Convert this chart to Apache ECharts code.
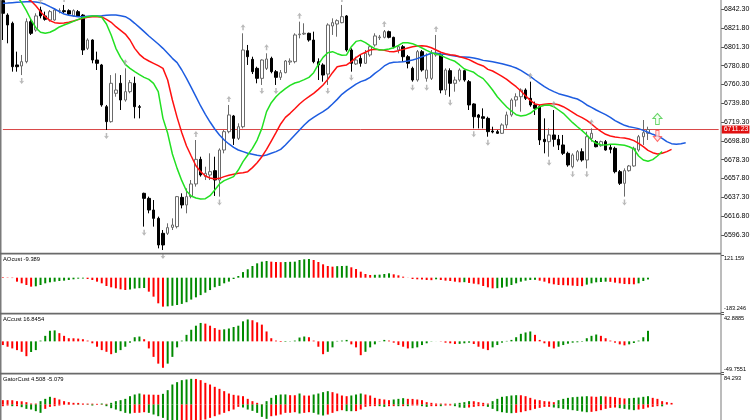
<!DOCTYPE html>
<html><head><meta charset="utf-8">
<script src="https://cdn.jsdelivr.net/npm/echarts@6/dist/echarts.min.js"></script>
<style>html,body{margin:0;padding:0;background:#fff}#c{width:752px;height:420px}</style>
</head><body><div id="c"></div>
<script>
// [open, close, low, high]
const candles = [
[6851.7,6837.9,6808.8,6852.4],[6836.0,6825.2,6805.2,6837.9],[6827.0,6779.7,6774.3,6828.8],[6781.6,6779.7,6774.3,6796.1],[6780.5,6785.2,6770.6,6792.5],
[6785.2,6828.8,6783.4,6832.4],[6828.8,6816.1,6814.3,6832.4],[6819.7,6835.0,6817.9,6837.9],[6841.5,6835.0,6832.4,6845.1],[6835.0,6831.3,6829.9,6839.7],
[6830.6,6839.7,6828.8,6841.5],[6830.6,6841.5,6829.9,6843.3],[6840.4,6840.8,6837.9,6843.3],[6840.8,6839.7,6837.9,6847.0],[6840.8,6837.1,6836.0,6842.2],
[6835.0,6840.8,6834.2,6842.2],[6839.7,6835.0,6834.2,6841.5],[6836.0,6797.9,6792.5,6837.1],[6799.7,6808.8,6797.9,6810.6],[6808.8,6787.0,6783.4,6809.5],
[6787.0,6783.4,6776.1,6796.1],[6781.6,6738.0,6736.1,6782.7],[6736.1,6719.8,6710.7,6738.0],[6719.8,6761.6,6718.7,6770.6],[6750.7,6754.3,6747.0,6772.5],
[6761.6,6743.4,6732.5,6770.6],[6743.4,6752.5,6741.6,6777.9],[6752.5,6762.3,6750.7,6765.2],[6761.6,6736.1,6723.4,6768.8],[6736.1,6735.4,6723.4,6738.0],
[6641.7,6636.2,6605.4,6642.4],[6636.2,6623.5,6619.9,6638.1],[6623.5,6614.4,6605.4,6634.4],[6614.4,6585.4,6581.7,6616.3],[6598.1,6585.4,6579.9,6601.7],
[6598.1,6604.3,6596.3,6609.0],[6604.6,6607.2,6601.7,6614.4],[6605.4,6638.1,6603.5,6638.8],[6637.3,6629.0,6625.3,6641.7],[6629.0,6638.1,6619.9,6647.1],
[6638.1,6651.9,6636.2,6656.2],[6651.9,6678.7,6649.0,6699.8],[6678.7,6661.7,6659.9,6681.6],[6659.9,6663.5,6656.2,6670.7],[6661.7,6665.3,6656.2,6685.3],
[6666.4,6656.2,6638.8,6681.6],[6656.2,6688.9,6638.1,6690.7],[6688.9,6708.9,6685.3,6710.7],[6708.9,6727.1,6707.1,6738.0],[6726.0,6701.6,6694.4,6727.1],
[6701.6,6714.3,6699.8,6718.0],[6714.3,6797.9,6712.5,6816.1],[6797.2,6790.6,6781.6,6803.4],[6787.7,6774.3,6771.7,6790.6],[6777.9,6767.0,6761.6,6779.7],
[6767.0,6787.0,6759.8,6787.7],[6777.9,6788.1,6776.1,6794.3],[6788.8,6774.3,6772.5,6790.6],[6774.3,6768.1,6759.8,6776.1],[6768.1,6773.2,6765.2,6776.1],
[6773.2,6785.9,6772.5,6787.0],[6784.8,6785.9,6781.6,6788.8],[6785.2,6814.3,6783.4,6816.1],[6814.6,6815.3,6810.6,6828.8],[6815.3,6816.1,6814.3,6827.0],
[6816.1,6808.8,6807.0,6816.8],[6808.8,6785.2,6783.4,6817.9],[6785.2,6781.6,6765.2,6788.8],[6781.6,6770.6,6763.4,6783.4],[6771.7,6825.2,6759.8,6827.0],
[6824.1,6827.7,6814.3,6832.4],[6826.2,6829.9,6812.4,6831.3],[6827.7,6834.2,6827.0,6847.0],[6835.0,6797.9,6796.1,6836.0],[6797.9,6783.4,6774.3,6799.7],
[6782.7,6787.0,6781.6,6790.6],[6788.8,6783.4,6779.7,6792.5],[6783.4,6794.3,6782.7,6797.9],[6792.5,6801.5,6790.6,6803.4],[6803.4,6813.2,6801.5,6816.1],
[6811.3,6812.1,6808.8,6814.3],[6811.7,6817.9,6810.6,6819.7],[6817.9,6811.7,6810.6,6819.0],[6811.7,6801.5,6799.7,6812.4],[6797.9,6801.5,6794.3,6803.4],
[6801.5,6790.6,6785.2,6803.4],[6790.6,6783.4,6777.9,6792.5],[6777.9,6765.2,6763.4,6779.7],[6765.2,6796.1,6763.4,6797.9],[6796.1,6776.1,6774.3,6797.9],
[6767.0,6776.1,6763.4,6794.3],[6767.0,6794.3,6765.2,6797.9],[6792.5,6794.3,6790.6,6814.3],[6792.5,6754.3,6750.7,6794.3],[6754.3,6776.1,6748.9,6777.9],
[6775.4,6761.6,6747.0,6777.9],[6761.6,6765.2,6752.5,6768.8],[6765.2,6776.1,6763.4,6777.9],[6775.4,6765.2,6763.4,6776.1],[6763.4,6738.0,6732.5,6765.2],
[6739.1,6725.2,6712.5,6739.8],[6727.1,6724.5,6712.5,6728.2],[6725.2,6723.4,6712.5,6734.3],[6723.4,6708.9,6703.4,6725.2],[6709.6,6708.5,6707.1,6714.3],
[6708.9,6707.1,6706.4,6710.7],[6707.1,6716.2,6706.4,6718.0],[6716.2,6727.1,6712.5,6730.7],[6727.1,6743.4,6725.2,6745.2],[6743.4,6747.0,6736.1,6750.7],
[6747.0,6754.3,6730.7,6756.1],[6754.3,6745.2,6743.4,6756.1],[6745.2,6738.0,6736.1,6763.4],[6738.0,6734.3,6727.1,6741.6],[6736.1,6699.8,6694.4,6738.0],
[6700.5,6698.0,6685.3,6723.4],[6698.0,6705.3,6681.6,6712.5],[6705.3,6700.5,6692.5,6732.5],[6700.5,6694.4,6688.9,6705.3],[6694.4,6685.3,6683.5,6705.3],
[6685.3,6672.6,6670.7,6687.1],[6670.7,6683.5,6668.9,6685.3],[6678.0,6687.1,6676.2,6688.9],[6687.1,6678.0,6676.2,6690.7],[6678.0,6703.4,6668.9,6708.9],
[6701.6,6707.1,6698.0,6712.5],[6698.0,6692.5,6691.8,6699.8],[6693.6,6698.0,6692.5,6699.1],[6698.0,6688.9,6688.2,6699.8],[6691.8,6689.6,6685.3,6694.4],
[6690.7,6665.3,6663.5,6692.5],[6665.3,6652.6,6650.8,6667.1],[6652.6,6666.4,6638.1,6668.9],[6666.4,6671.5,6665.3,6672.6],[6671.5,6690.7,6670.7,6692.5],
[6688.9,6703.4,6687.1,6705.3],[6703.4,6707.8,6694.4,6721.6],[6707.1,6711.2,6699.8,6714.3]
];
const jaw = [6848.8,6849.1,6849.5,6849.9,6850.2,6850.6,6850.6,6850.2,6849.5,6847.7,
6845.1,6842.6,6839.7,6837.1,6835.7,6835.0,6834.2,6834.2,6834.6,6835.0,
6835.0,6835.3,6835.7,6836.0,6836.0,6835.3,6834.2,6831.3,6827.0,6822.6,
6817.9,6813.2,6808.8,6804.4,6799.7,6794.3,6788.8,6784.1,6776.1,6767.0,
6757.2,6747.0,6736.9,6727.8,6719.4,6711.8,6705.3,6699.8,6695.5,6691.8,
6688.9,6687.1,6685.3,6684.2,6683.1,6682.4,6683.5,6685.3,6687.1,6689.6,
6694.4,6699.8,6705.3,6710.7,6716.2,6720.9,6724.5,6727.8,6730.7,6734.3,
6739.1,6744.1,6749.6,6753.6,6757.2,6760.8,6763.4,6765.2,6768.1,6772.5,
6776.1,6780.5,6783.4,6784.5,6784.8,6785.2,6785.9,6787.0,6788.5,6790.6,
6792.5,6794.3,6794.3,6793.5,6793.2,6792.1,6791.4,6790.6,6790.3,6789.9,
6789.2,6788.1,6786.6,6785.9,6785.2,6784.1,6783.0,6781.6,6780.1,6778.3,
6775.7,6772.5,6769.2,6765.2,6761.6,6757.9,6755.0,6752.5,6750.3,6748.9,
6747.4,6745.9,6744.5,6741.6,6738.0,6735.4,6732.5,6730.0,6727.4,6724.5,
6720.9,6718.3,6715.8,6714.3,6713.3,6712.2,6710.3,6708.2,6706.0,6704.2,
6701.6,6698.0,6695.8,6695.1,6695.8,6696.9];
const teeth = [6866.9,6865.1,6862.6,6859.7,6856.8,6854.2,6851.3,6846.2,6839.7,6834.2,
6829.9,6827.7,6827.0,6827.3,6828.1,6829.5,6831.0,6832.4,6833.5,6834.2,
6834.2,6833.9,6831.3,6828.1,6823.3,6819.3,6815.3,6808.8,6799.7,6793.2,
6788.8,6785.9,6783.4,6780.8,6777.9,6765.2,6743.4,6724.5,6707.8,6693.3,
6682.4,6671.8,6665.3,6660.6,6658.4,6657.3,6658.0,6659.9,6661.3,6662.4,
6663.5,6664.2,6665.3,6669.7,6675.1,6681.6,6689.6,6698.7,6707.8,6717.3,
6724.5,6728.9,6733.9,6739.1,6743.4,6747.0,6750.7,6755.0,6759.8,6765.9,
6773.2,6779.7,6780.8,6781.6,6785.2,6789.6,6793.2,6795.4,6797.9,6798.6,
6798.3,6797.5,6796.4,6796.1,6797.2,6798.6,6800.1,6801.5,6802.3,6802.6,
6801.9,6800.4,6797.9,6795.4,6793.9,6792.8,6792.1,6790.6,6789.2,6787.4,
6784.8,6782.3,6780.5,6776.8,6775.0,6772.1,6769.2,6765.9,6761.9,6757.9,
6753.2,6748.1,6743.0,6739.1,6738.0,6738.7,6739.4,6739.4,6738.3,6736.1,
6733.2,6730.0,6726.7,6724.2,6721.2,6717.3,6712.9,6709.3,6706.0,6704.2,
6703.1,6702.4,6702.0,6700.9,6699.1,6696.2,6692.5,6688.5,6686.0,6684.5,
6685.3,6687.1,6689.6];
const lips = [6874.2,6868.7,6863.3,6856.8,6849.5,6840.8,6830.6,6822.2,6817.2,6816.1,
6817.2,6819.7,6823.0,6825.2,6827.0,6829.1,6831.3,6833.1,6834.2,6835.0,
6835.0,6833.5,6826.2,6814.3,6799.7,6789.9,6782.3,6777.9,6774.3,6771.0,
6768.1,6765.9,6761.6,6752.5,6723.4,6707.1,6684.6,6668.9,6655.5,6644.2,
6638.8,6636.6,6635.5,6635.9,6639.1,6645.3,6651.9,6655.5,6657.7,6659.9,
6667.1,6676.2,6683.5,6690.7,6699.8,6712.5,6730.7,6740.5,6747.0,6751.8,
6755.8,6759.4,6761.9,6763.4,6765.6,6768.1,6773.2,6782.3,6789.9,6795.0,
6796.1,6793.9,6792.1,6792.5,6801.5,6807.3,6808.4,6805.9,6802.3,6799.4,
6797.9,6798.3,6799.0,6800.4,6803.0,6805.9,6805.9,6804.8,6802.6,6800.1,
6797.5,6795.0,6793.5,6792.1,6789.6,6787.4,6785.6,6781.6,6777.2,6775.4,
6773.6,6769.6,6766.7,6760.8,6754.3,6747.0,6741.2,6735.8,6731.4,6727.4,
6726.0,6726.7,6728.9,6732.9,6736.1,6737.6,6737.9,6736.1,6732.5,6728.9,
6723.8,6718.7,6714.3,6710.0,6705.3,6699.8,6696.2,6694.7,6694.4,6695.1,
6695.1,6694.7,6694.0,6692.5,6690.0,6682.4,6678.0,6676.6,6678.4,6682.4,
6687.1];
const ao = [3,1.5,-2,-21.2,-30.1,-39.0,-47.9,-46.0,-39.0,-30.1,
-24.7,-21.2,-17.6,-15.8,-12.3,-8.7,-5.2,-4.5,-6.9,-12.3,
-21.2,-30.1,-44.3,-51.4,-56.8,-62.1,-65.7,-63,-58,-56,
-55,-74.6,-101.3,-136.9,-154.7,-153,-150,-146,-140,-131,
-117,-105,-93,-80,-66,-51,-44,-30,-21,-7,
9,30,45,62.5,76.7,85.6,89.2,85.6,83.8,83.0,
83.8,84.7,85.6,94.5,98.1,99.9,94.5,83.8,71.4,62.5,
58.9,61.6,62.5,63.4,55.4,46.5,32.2,19.8,14.4,15.3,
16.2,19.8,23.3,18.0,12.6,5.5,-0.7,-6.9,-8.7,-9.6,
-12.3,-13.2,-8.7,-12.3,-15.8,-17.6,-21.2,-24.7,-23.9,-28,
-31.9,-35.4,-44.3,-51.4,-56.8,-56.0,-53.2,-47.9,-39.0,-30.1,
-21.2,-15.8,-12.3,-11.4,-15.8,-21.2,-30.1,-35.4,-39.0,-39.9,
-40.8,-42.5,-44.3,-45.2,-37.2,-30.1,-24.7,-23.0,-21.2,-22.1,
-26.5,-30.1,-33.6,-34.5,-35.4,-30.1,-17.6,-9.389];
const ac = [-5.9,-8.6,-11.3,-14.0,-16.7,-23.7,-17.0,-14.0,1.2,8.8,
16.9,17.5,13.1,8.8,5.0,4.9,4.4,3.4,1.2,-3.1,
-8.6,-14.0,-16.7,-20.5,-18.3,-14.0,-8.6,-2.1,6.6,7.7,
3.4,-11.3,-24.8,-35.6,-42.2,-35.6,-24.8,-9.6,1.2,10.4,
18.5,25.0,29.4,28.3,25.0,21.2,18.5,19.2,20.5,22.9,
25.0,32.0,35.0,33.7,30.4,26.7,15.8,5.0,1.2,-1.0,
-0.8,-0.4,1.2,6.1,7.7,6.6,1.2,-8.6,-20.5,-16.7,
-9.6,0.7,1.2,2.3,-4.8,-9.6,-22.1,-16.7,-9.6,-4.8,
-0.4,2.3,1.2,-2.1,-5.9,-8.6,-11.3,-11.0,-9.6,-5.9,
-3.1,-0.4,0.1,-0.4,-2.1,-3.1,-4.2,-4.0,-3.1,-2.1,
-4.2,-8.6,-11.8,-14.0,-9.6,-5.9,-2.1,0.7,2.3,6.6,
12.0,14.2,15.8,10.4,2.3,-3.1,-8.6,-11.3,-8.6,-5.9,
-3.7,-2.1,-1.5,-0.7,5.0,8.8,10.9,8.8,5.0,1.2,
-2.1,-4.8,-6.4,-4.8,-2.6,1.2,6.6,16.8454];
const gatorUp = [12.2,12.2,12.0,9.4,9.0,6.6,2.8,2.6,9.4,15.9,
21.6,18.7,14.1,9.4,6.6,4.7,4.5,2.8,2.6,2.4,
1.9,2.8,1.9,4.7,9.4,12.2,15.9,23.4,28.1,30.9,
28.1,27.8,27.5,27.2,30.0,40.3,56.2,62.8,68.4,70.3,
72.1,71.8,68.4,60.9,56.2,49.7,44.0,37.5,30.9,27.2,
25.3,23.4,15.9,9.4,4.7,0.9,9.4,18.7,26.2,28.1,
28.3,26.2,26.0,30.9,25.3,25.1,28.1,30.9,34.7,37.5,
34.7,30.9,25.3,23.4,25.3,28.1,30.9,28.1,25.3,18.7,
15.9,14.1,12.2,14.1,15.9,17.8,15.9,15.7,14.1,12.2,
6.6,4.7,2.8,2.6,2.4,1.9,2.8,4.7,6.6,9.4,
9.2,6.6,4.7,2.8,9.4,15.9,21.6,23.4,25.3,26.2,
26.0,23.4,18.7,14.1,12.2,9.4,8.4,6.6,12.2,15.9,
18.7,20.6,21.6,22.5,23.4,22.5,21.6,23.4,22.5,21.6,
20.6,18.7,16.9,17.8,18.7,19.7,21.6,23.4,18.7,15.9,
9.4,6.6,4.508];
const gatorDn = [-4.7,-2.8,-4.7,-4.6,-7.5,-12.2,-14.1,-18.7,-23.4,-12.2,
-6.6,-4.7,-2.8,-0.9,-0.9,-0.8,-0.9,-0.8,-0.9,-2.8,
-0.9,-0.8,-4.7,-10.3,-14.1,-18.7,-23.4,-25.3,-23.4,-23.2,
-21.6,-23.4,-28.1,-32.8,-37.5,-46.9,-51.5,-56.2,-51.5,-49.7,
-46.9,-44.0,-43.8,-42.2,-37.5,-32.8,-28.1,-23.4,-18.7,-14.1,
-6.6,-8.4,-14.1,-17.8,-23.4,-34.7,-40.3,-32.8,-30.9,-28.1,
-23.4,-23.2,-21.6,-25.3,-23.4,-21.6,-23.4,-28.1,-30.9,-28.1,
-23.4,-18.7,-15.9,-18.7,-18.8,-18.6,-14.1,-6.6,-4.7,-4.6,
-4.7,-6.6,-4.7,-4.6,-4.7,-4.6,-4.7,-2.8,-2.7,-4.7,
-6.6,-4.7,-4.6,-4.7,-2.8,-2.7,-4.7,-8.4,-9.4,-8.4,
-6.6,-4.7,-4.6,-6.6,-12.2,-18.7,-21.6,-23.4,-24.4,-23.4,
-21.6,-18.7,-15.9,-12.2,-9.4,-6.6,-6.5,-8.4,-10.3,-12.2,
-14.1,-15.9,-17.8,-19.7,-21.6,-20.6,-18.7,-15.9,-12.2,-9.4,
-8.4,-10.3,-12.2,-14.1,-15.9,-14.1,-12.2,-8.4,-6.6,-4.7,
-5.079];
const fractalUpIdx = [8,13,26,41,48,51,56,63,72,81,92,112,117,125];
const fractalDnIdx = [4,22,30,34,46,55,58,69,74,87,90,95,100,103,116,121,124,132];
const signalUp = [[139,6722.7]];
const signalDn = [[139,6704.2]];
const priceTicks = [6842.30,6821.80,6801.30,6780.80,6760.30,6739.80,6719.30,6698.80,6678.30,6657.80,6637.30,6616.80,6596.30];
const lastPrice = 6711.23;
const aoRange = [-183.246, 121.159];
const acRange = [-49.7551, 42.8885];
const gatorMax = 84.293;
const panelTitles = ['AOcust -9.389','ACcust 16.8454','GatorCust 4.508 -5.079'];
const N_CAT = 153;

const GREEN = '#008a00', RED = '#ff0000';
function colored(arr, absMode){
  return arr.map((v,i)=>{
    let up = false;
    if (i>0){ const p = arr[i-1]; up = absMode ? Math.abs(v) > Math.abs(p) : v > p; }
    return {value:v, itemStyle:{color: up?GREEN:RED}};
  });
}
const cats = Array.from({length:N_CAT},(_,i)=>String(i));
const FONT = 'Liberation Sans';
function subAxis(g, min, max, dec, topOnly){
  const vals = topOnly ? [max] : [max, min];
  return {gridIndex:g, type:'value', position:'right', min:min, max:max,
    splitLine:{show:false}, axisLine:{show:false},
    axisTick:{show:true, length:3, customValues:vals, lineStyle:{color:'#555'}},
    axisLabel:{customValues:vals, margin:3, fontSize:5.6, color:'#000', fontFamily:FONT,
      formatter:(v)=> (v>0?'{t|':'{b|') + v.toFixed(dec) + '}',
      rich:{t:{padding:[7,0,0,0],fontSize:5.6,color:'#000',fontFamily:FONT}, b:{padding:[0,0,7,0],fontSize:5.6,color:'#000',fontFamily:FONT}}}
  };
}
const upArrow = 'path://M5 0 L10 6 L6.5 5 L6.5 11 L3.5 11 L3.5 5 L0 6 Z';
const dnArrow = 'path://M5 11 L10 5 L6.5 6 L6.5 0 L3.5 0 L3.5 6 L0 5 Z';
const blockUp = 'path://M5 0 L10 5 L7 5 L7 11 L3 11 L3 5 L0 5 Z';
const blockDn = 'path://M5 11 L10 6 L7 6 L7 0 L3 0 L3 6 L0 6 Z';
const PRICE_LINE = '#d94848';

const gridBase = {left:0.5, width:720.5, containLabel:false, outerBoundsMode:'none'};
const option = {
  animation:false,
  backgroundColor:'#fff',
  textStyle:{fontFamily:FONT},
  title: panelTitles.map((t,k)=>({text:t, left:3, top:[256.5,316.5,376.5][k], padding:0,
    textStyle:{fontSize:5.8, fontWeight:'normal', color:'#000', fontFamily:FONT}})),
  grid:[
    Object.assign({top:0, height:252.5}, gridBase),
    Object.assign({top:255, height:57}, gridBase),
    Object.assign({top:314.5, height:58}, gridBase),
    Object.assign({top:374.5, height:45.5}, gridBase)
  ],
  xAxis:[0,1,2,3].map(g=>({gridIndex:g, type:'category', data:cats, boundaryGap:true, show:false})),
  yAxis:[
    {gridIndex:0, type:'value', position:'right', min:6577.2, max:6852.4,
     splitLine:{show:false}, axisLine:{show:false},
     axisTick:{show:true, length:3, customValues:priceTicks, lineStyle:{color:'#555'}},
     axisLabel:{customValues:priceTicks, margin:3, fontSize:7, color:'#000', fontFamily:FONT, formatter:(v)=>v.toFixed(2)}},
    subAxis(1, aoRange[0], aoRange[1], 3, false),
    subAxis(2, acRange[0], acRange[1], 4, false),
    subAxis(3, -43.5, gatorMax, 3, true)
  ],
  graphic:[
    {type:'rect', z:100, silent:true, shape:{x:0,y:0,width:1.5,height:420}, style:{fill:'#7a7a7a'}},
    {type:'rect', z:100, silent:true, shape:{x:720.5,y:0,width:1,height:420}, style:{fill:'#7a7a7a'}},
    {type:'rect', z:100, silent:true, shape:{x:0,y:252.7,width:721,height:1.8}, style:{fill:'#6a6a6a'}},
    {type:'rect', z:100, silent:true, shape:{x:0,y:312.7,width:721,height:1.8}, style:{fill:'#6a6a6a'}},
    {type:'rect', z:100, silent:true, shape:{x:0,y:372.7,width:721,height:1.8}, style:{fill:'#6a6a6a'}}
  ],
  series:[
    {type:'line', xAxisIndex:0, yAxisIndex:0, z:1, silent:true, showSymbol:false,
     data:[[0,lastPrice],[N_CAT-1,lastPrice]],
     lineStyle:{color:PRICE_LINE, width:1}, itemStyle:{color:PRICE_LINE},
     endLabel:{show:true, distance:3, formatter:()=>lastPrice.toFixed(2), color:'#fff', backgroundColor:'#e01010',
       padding:[1,1,0,2], fontSize:7, fontFamily:FONT}},
    {type:'candlestick', xAxisIndex:0, yAxisIndex:0, data:candles, barWidth:3, z:2,
     itemStyle:{color:'#ffffff', color0:'#000000', borderColor:'#6a6a6a', borderColor0:'#000000', borderWidth:1}},
    {type:'line', xAxisIndex:0, yAxisIndex:0, data:jaw, showSymbol:false, z:3, lineStyle:{color:'#1d5ce0', width:1.5}, itemStyle:{color:'#1d5ce0'}},
    {type:'line', xAxisIndex:0, yAxisIndex:0, data:teeth, showSymbol:false, z:3, lineStyle:{color:'#ff1010', width:1.5}, itemStyle:{color:'#ff1010'}},
    {type:'line', xAxisIndex:0, yAxisIndex:0, data:lips, showSymbol:false, z:3, lineStyle:{color:'#22e022', width:1.5}, itemStyle:{color:'#22e022'}},
    {type:'scatter', xAxisIndex:0, yAxisIndex:0, data:fractalUpIdx.map(i=>[i,candles[i][3]]), symbol:upArrow, symbolSize:[5,6], symbolOffset:[0,-6], z:4, itemStyle:{color:'#a8a8a8'}},
    {type:'scatter', xAxisIndex:0, yAxisIndex:0, data:fractalDnIdx.map(i=>[i,candles[i][2]]), symbol:dnArrow, symbolSize:[5,6], symbolOffset:[0,6], z:4, itemStyle:{color:'#a8a8a8'}},
    {type:'scatter', xAxisIndex:0, yAxisIndex:0, data:signalUp, symbol:blockUp, symbolSize:[9,11], z:5, itemStyle:{color:'#f4fff4', borderColor:'#44cc44', borderWidth:1}},
    {type:'scatter', xAxisIndex:0, yAxisIndex:0, data:signalDn, symbol:blockDn, symbolSize:[8,11], z:5, itemStyle:{color:'#ffe0e0', borderColor:'#ff4d4d', borderWidth:1}},
    {type:'bar', xAxisIndex:1, yAxisIndex:1, data:colored(ao,false), barWidth:2},
    {type:'bar', xAxisIndex:2, yAxisIndex:2, data:colored(ac,false), barWidth:2},
    {type:'bar', xAxisIndex:3, yAxisIndex:3, data:colored(gatorUp,false), barWidth:2, barGap:'-100%'},
    {type:'bar', xAxisIndex:3, yAxisIndex:3, data:colored(gatorDn,true), barWidth:2, barGap:'-100%'}
  ]
};
const chart = echarts.init(document.getElementById('c'), null, {renderer:'canvas'});
chart.setOption(option);
</script>
</body></html>
